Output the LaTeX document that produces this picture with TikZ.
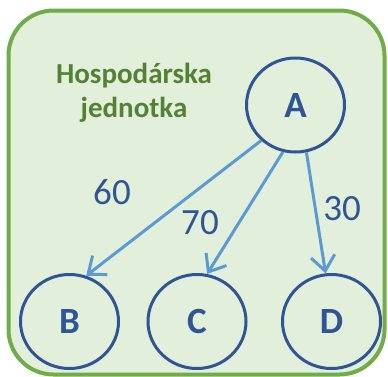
\documentclass[tikz,border=0pt]{standalone}
\usepackage{fontspec}
\setmainfont{Carlito}
\usetikzlibrary{shapes.geometric,arrows.meta}
\definecolor{bgfill}{HTML}{E2EFDA}
\definecolor{frameg}{HTML}{70AD47}
\definecolor{textg}{HTML}{548235}
\definecolor{nodeb}{HTML}{2F5597}
\definecolor{arrowb}{HTML}{5B9BD5}
\tikzset{
  unit/.style={ellipse, draw=nodeb, line width=3pt, minimum width=98pt, minimum height=94pt, inner sep=0pt,
    font=\fontsize{37}{40}\selectfont\bfseries, text=nodeb},
  weight/.style={font=\fontsize{37}{40}\selectfont, text=nodeb, inner sep=0pt},
  link/.style={draw=arrowb, line width=3pt, -{Straight Barb[length=15pt,width=24pt,line width=3pt]}},
  frame/.style={draw=frameg, fill=bgfill, line width=4pt, rounded corners=45pt},
  title/.style={font=\fontsize{29}{33.5}\selectfont\bfseries, text=textg, align=center, inner sep=0pt}
}
\begin{document}
\begin{tikzpicture}[x=1pt,y=-1pt]
\useasboundingbox (0,0) rectangle (388,376);
\path[frame] (8.5,10.5) rectangle (384.5,374.5);
\node[title] (t) at (134,93) {Hospodárska\\jednotka};
\node[unit] (A) at (295.5,105) {A};
\node[unit] (B) at (69.5,321.5) {B};
\node[unit] (C) at (197,321.5) {C};
\node[unit] (D) at (331.5,321.5) {D};
\draw[link] (A.226) -- (B.70);
\draw[link] (A.255) -- (C.78);
\draw[link] (A.283) -- (D.97);
\node[weight] (w1) at (112,192) {60};
\node[weight] (w2) at (200,223) {70};
\node[weight] (w3) at (342,209) {30};
\end{tikzpicture}
\end{document}
